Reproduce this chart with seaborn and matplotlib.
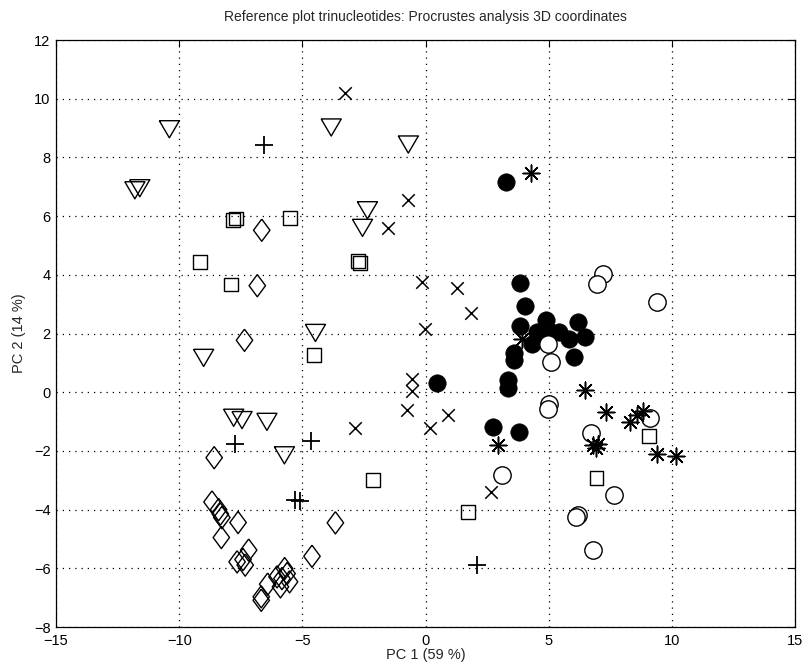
import numpy as np
import matplotlib
matplotlib.use('Agg')
import matplotlib.pyplot as plt
import seaborn as sns

# values (PC1, PC2)
tri_x = [-10.4, -3.83, -0.70, -11.8, -11.6, -2.36, -2.56, -4.47, -9.01, -7.79, -7.45, -6.44, -5.73]
tri_y = [8.96, 9.02, 8.44, 6.88, 6.95, 6.20, 5.60, 2.02, 1.17, -0.87, -0.95, -1.01, -2.15]

sq_x = [-7.82, -7.68, -5.50, -2.74, -2.66, -9.15, -7.90, -4.54, -2.14, 1.72, 6.94, 9.07]
sq_y = [5.86, 5.92, 5.95, 4.47, 4.40, 4.43, 3.67, 1.28, -3.00, -4.07, -2.91, -1.50]

dia_x = [-6.65, -6.83, -7.35, -8.58, -8.67, -8.40, -8.33, -8.27, -7.61, -8.29, -3.66, -4.61,
         -7.18, -7.65, -7.32, -7.41, -5.72, -5.62, -5.83, -5.89, -5.52, -6.03, -6.41, -6.67, -6.67]
dia_y = [5.52, 3.63, 1.77, -2.23, -3.74, -4.00, -4.15, -4.27, -4.44, -4.95, -4.45, -5.59,
         -5.38, -5.78, -5.89, -5.70, -6.01, -6.18, -6.35, -6.63, -6.46, -6.29, -6.54, -6.97, -7.09]

cross_x = [-3.25, -0.72, -1.52, -0.13, 1.29, 1.86, -0.04, -0.57, -0.57, -0.77, 0.91, -2.85, 0.16, 2.66]
cross_y = [10.2, 6.54, 5.58, 3.74, 3.55, 2.71, 2.17, 0.44, 0.04, -0.59, -0.76, -1.22, -1.22, -3.41]

plus_x = [-6.54, -7.72, -4.65, -5.28, -5.08, 2.07]
plus_y = [8.44, -1.75, -1.66, -3.68, -3.71, -5.89]

fill_x = [3.28, 3.82, 4.05, 3.83, 4.88, 6.17, 4.54, 4.95, 5.42, 5.83, 6.48, 4.30, 4.67, 6.03,
          3.59, 3.57, 3.35, 3.35, 0.45, 2.75, 3.79]
fill_y = [7.17, 3.72, 2.93, 2.25, 2.45, 2.40, 2.05, 2.11, 2.05, 1.83, 1.88, 1.66, 1.83, 1.20,
          1.32, 1.09, 0.43, 0.13, 0.32, -1.18, -1.35]

open_x = [7.22, 6.95, 9.38, 4.97, 5.08, 5.01, 4.95, 9.12, 6.71, 3.09, 7.63, 6.17, 6.11, 6.80]
open_y = [4.04, 3.68, 3.08, 1.66, 1.03, -0.39, -0.58, -0.87, -1.39, -2.83, -3.49, -4.19, -4.25, -5.36]

ast_x = [4.28, 3.93, 6.46, 7.33, 8.31, 8.60, 8.81, 6.78, 6.92, 6.98, 2.95, 9.38, 10.18]
ast_y = [7.47, 1.80, 0.09, -0.67, -1.01, -0.78, -0.64, -1.81, -1.91, -1.75, -1.81, -2.09, -2.18]

sns.set_style('white')
plt.rcParams['font.family'] = ['Liberation Sans', 'DejaVu Sans']
plt.rcParams['axes.unicode_minus'] = True

fig = plt.figure(figsize=(8.06, 6.64), dpi=100)
ax = fig.add_axes([0.0695, 0.0557, 0.917, 0.884])

tri_marker = [(-1, 0.85), (1, 0.85), (0, -0.85), (-1, 0.85)]
dia_marker = [(0, 1), (0.74, 0), (0, -1), (-0.74, 0), (0, 1)]

lw = 1.0
sns.scatterplot(x=tri_x, y=tri_y, marker=tri_marker, s=14.5**2, facecolor='none',
                edgecolor='black', linewidth=lw, ax=ax)
sns.scatterplot(x=sq_x, y=sq_y, marker='s', s=10**2, facecolor='none',
                edgecolor='black', linewidth=lw, ax=ax)
sns.scatterplot(x=dia_x, y=dia_y, marker=dia_marker, s=16**2, facecolor='none',
                edgecolor='black', linewidth=lw, ax=ax)
sns.scatterplot(x=cross_x, y=cross_y, marker='x', s=9**2, color='black', linewidth=1.1, ax=ax)
sns.scatterplot(x=plus_x, y=plus_y, marker='+', s=13**2, color='black', linewidth=1.3, ax=ax)
sns.scatterplot(x=fill_x, y=fill_y, marker='o', s=12.5**2, color='black',
                edgecolor='black', linewidth=0.5, ax=ax)
sns.scatterplot(x=open_x, y=open_y, marker='o', s=12.5**2, facecolor='white',
                edgecolor='black', linewidth=lw, ax=ax)
sns.scatterplot(x=ast_x, y=ast_y, marker=(8, 2, 0), s=12**2, color='black', linewidth=1.1, ax=ax)

ax.set_xlim(-15, 15)
ax.set_ylim(-8, 12)
ax.set_xticks(np.arange(-15, 16, 5))
ax.set_yticks(np.arange(-8, 13, 2))
ax.grid(True, color='black', linestyle=(0, (1, 4)), linewidth=0.9)
ax.tick_params(direction='in', top=True, right=True, length=5, width=0.8,
               labelsize=10.5, colors='black')
ax.tick_params(axis='x', pad=5)
ax.tick_params(axis='y', pad=4)
for sp in ax.spines.values():
    sp.set_color('black')
    sp.set_linewidth(0.9)

ax.set_xlabel('PC 1 (59 %)', fontsize=10.5, labelpad=0)
ax.set_ylabel('PC 2 (14 %)', fontsize=10.5, labelpad=6)
ax.set_title('Reference plot trinucleotides: Procrustes analysis 3D coordinates',
             fontsize=10, pad=14)

fig.savefig('out.png', dpi=100)
